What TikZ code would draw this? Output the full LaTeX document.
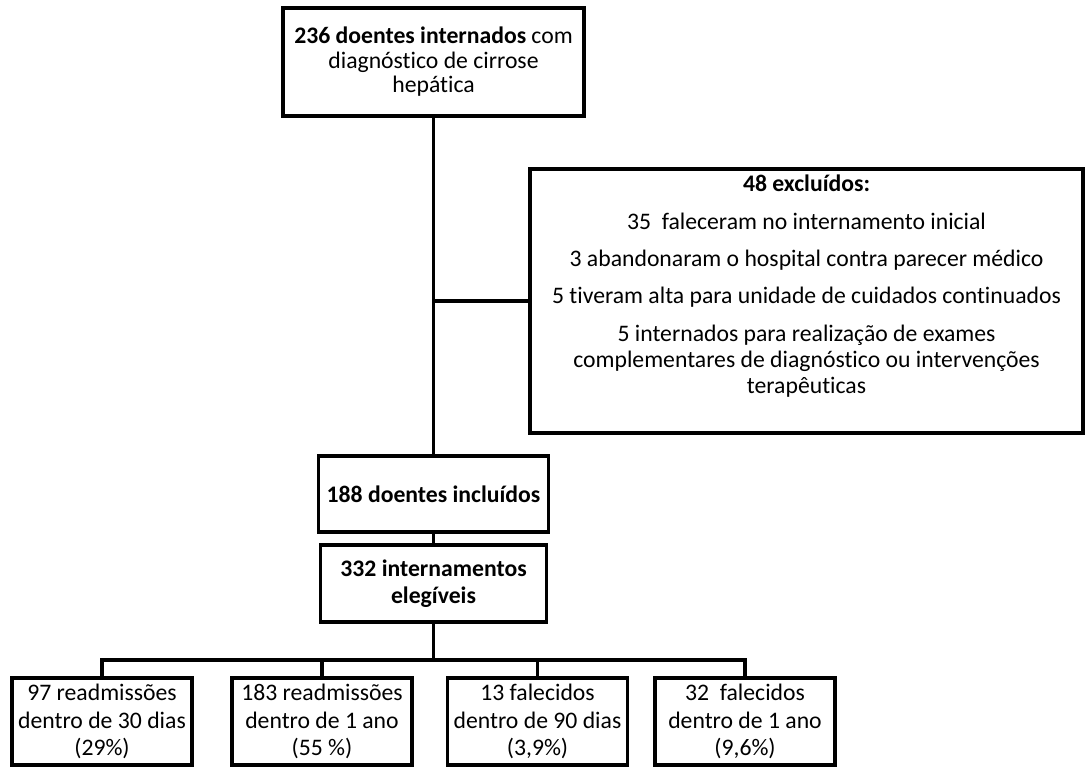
\documentclass[tikz,border=0pt]{standalone}
\usepackage{fontspec}
\setmainfont{Carlito}[Ligatures=NoCommon]
\begin{document}
\begin{tikzpicture}[x=1pt,y=-1pt,
  box/.style={draw=black, line width=3.3pt, fill=white, align=center, inner sep=0pt,
    font=\fontsize{23.7}{27.5}\selectfont},
  txt/.style={inner sep=0pt, anchor=base, font=\fontsize{23.7}{27.5}\selectfont},
  link/.style={draw=black, line width=3.3pt}]
\useasboundingbox (0,0) rectangle (1086,767);
% main boxes
\node[box, minimum width=301pt, minimum height=108pt, font=\fontsize{23.7}{24.5}\selectfont] (top) at (433.5,62)
  {\textbf{236 doentes internados} com\\diagnóstico de cirrose\\hepática};
\node[box, minimum width=553pt, minimum height=264pt] (excl) at (806.5,301) {};
\node[box, minimum width=230pt, minimum height=76pt] (inc) at (433.5,494) {\textbf{188 doentes incluídos}};
\node[box, minimum width=226pt, minimum height=77pt] (eleg) at (433.5,583.5) {\textbf{332 internamentos}\\\textbf{elegíveis}};
% exclusion text
\node[txt] (e0) at (806.5,192) {\textbf{48 excluídos:}};
\node[txt] (e1) at (806.5,230) {35\ \ faleceram no internamento inicial};
\node[txt] (e2) at (806.5,266) {3 abandonaram o hospital contra parecer médico};
\node[txt] (e3) at (806.5,303) {5 tiveram alta para unidade de cuidados continuados};
\node[txt] (e4) at (806.5,341) {5 internados para realização de exames};
\node[txt] (e5) at (806.5,367) {complementares de diagnóstico ou intervenções};
\node[txt] (e6) at (806.5,393) {terapêuticas};
% bottom boxes
\node[box, minimum width=180pt, minimum height=87pt] (b1) at (102,721.5) {97 readmissões\\dentro de 30 dias\\(29\%)};
\node[box, minimum width=180pt, minimum height=87pt] (b2) at (322,721.5) {183 readmissões\\dentro de 1 ano\\(55 \%)};
\node[box, minimum width=180pt, minimum height=87pt] (b3) at (537.5,721.5) {13 falecidos\\dentro de 90 dias\\(3,9\%)};
\node[box, minimum width=180pt, minimum height=87pt] (b4) at (745,721.5) {32\ \ falecidos\\dentro de 1 ano\\(9,6\%)};
% connectors
\coordinate (branch) at (top.south |- excl.west);
\draw[link] (top.south) -- (inc.north);
\draw[link] (branch) -- (excl.west);
\draw[link] (inc.south) -- (eleg.north);
\coordinate (bar) at (433.5,660);
\draw[link] (eleg.south) -- (bar);
\draw[link, line join=miter] (b1.north) |- (bar) -| (b4.north);
\draw[link] (b2.north) -- (b2.north |- bar);
\draw[link] (b3.north) -- (b3.north |- bar);
\end{tikzpicture}
\end{document}
